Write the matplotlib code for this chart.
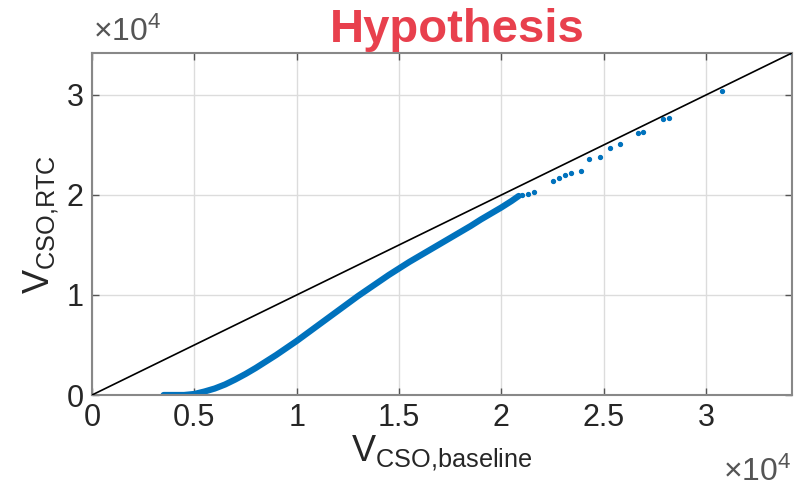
import numpy as np
import matplotlib.pyplot as plt
from matplotlib.ticker import FuncFormatter

plt.rcParams['font.family'] = ['Liberation Sans', 'DejaVu Sans']
plt.rcParams['mathtext.fontset'] = 'custom'
plt.rcParams['mathtext.rm'] = 'Liberation Sans'
plt.rcParams['mathtext.it'] = 'Liberation Sans:italic'

# CSO volume, baseline vs RTC (dense part of the curve)
v_base = [3500, 4000, 4500, 5000, 5500, 6000, 6500, 7000, 7500, 8000, 8500,
          9000, 9500, 10000, 10500, 11000, 11500, 12000, 12500, 13000, 13500,
          14000, 14500, 15000, 15500, 16000, 16500, 17000, 17500, 18000,
          18500, 19000, 19500, 20000, 20500, 20850]
v_rtc = [0, 0, 0, 10, 35, 65, 105, 155, 210, 270, 335,
         400, 470, 540, 615, 690, 765, 840, 915, 990, 1060,
         1130, 1200, 1265, 1330, 1390, 1450, 1510, 1570, 1630,
         1690, 1755, 1815, 1875, 1940, 1990]
v_rtc = [v * 10 for v in v_rtc]

# isolated events at the upper end
x_sparse = [21000, 21300, 21600, 22500, 22800, 23100, 23400, 23900, 24300,
            24800, 25300, 25800, 26700, 26900, 27900, 28200, 30800, 34200]
y_sparse = [20000, 20100, 20300, 21400, 21700, 22000, 22200, 22400, 23600,
            23800, 24700, 25100, 26200, 26300, 27600, 27700, 30400, 34200]

vmax = 34200

fig = plt.figure(figsize=(7.95, 4.95), dpi=100)
ax = fig.add_axes([0.1157, 0.202, 0.8805, 0.691])

ax.plot([0, vmax], [0, vmax], color='black', lw=1.2, zorder=3)
ax.plot(v_base, v_rtc, color='#0072BD', lw=4.5, solid_capstyle='round', zorder=2)
ax.plot(x_sparse, y_sparse, ls='none', marker='o', ms=2.8, color='#0072BD', zorder=2)

ax.set_xlim(0, vmax)
ax.set_ylim(0, vmax)
ax.set_xticks(np.arange(0, 3.01e4, 0.5e4))
ax.set_yticks(np.arange(0, 3.01e4, 1e4))
fmt = FuncFormatter(lambda v, p: '%g' % (v / 1e4))
ax.xaxis.set_major_formatter(fmt)
ax.yaxis.set_major_formatter(fmt)

ax.grid(True, color='#dcdcdc', lw=1.0)
ax.set_axisbelow(True)
ax.tick_params(direction='in', top=True, right=True, length=5, width=1,
               color='#555555', labelsize=22, labelcolor='#262626', pad=6)
for s in ax.spines.values():
    s.set_color('#888888')
    s.set_linewidth(1.5)

ax.set_xlabel(r'$\mathrm{V}_{\mathrm{CSO{,}baseline}}$', fontsize=26, color='#262626', labelpad=0)
ax.set_ylabel(r'$\mathrm{V}_{\mathrm{CSO{,}RTC}}$', fontsize=26, color='#262626', labelpad=4)

fig.text(0.117, 0.903, r'$\times\mathrm{10}^{4}$', fontsize=23, color='#555555', ha='left', va='bottom')
fig.text(0.995, 0.015, r'$\times\mathrm{10}^{4}$', fontsize=23, color='#555555', ha='right', va='bottom')

fig.text(0.575, 0.94, 'Hypothesis', fontsize=34, fontweight='bold', color='#E8404D',
         ha='center', va='center')

fig.savefig('out.png', dpi=100)
